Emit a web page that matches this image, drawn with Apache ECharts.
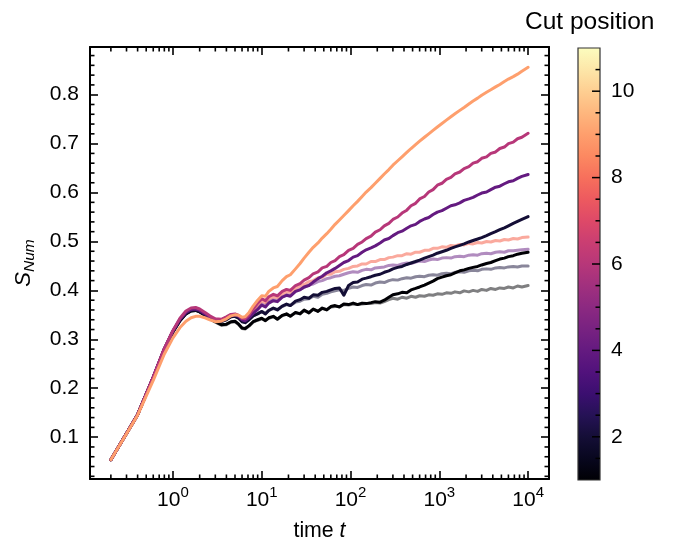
<!DOCTYPE html>
<html><head><meta charset="utf-8">
<script src="https://cdn.jsdelivr.net/npm/echarts@6/dist/echarts.min.js"></script>
<style>html,body{margin:0;padding:0;background:#fff}#c{width:689px;height:542px}</style>
</head><body><div id="c"></div>
<script>
// time points
const T = [0.2,0.4,0.6,0.8,1.0,1.2,1.4,1.6,1.8,2.0,2.3,2.6,
3.0,3.5,4.0,4.5,5.0,5.5,6.0,6.5,7.2,8.0,9.0,
10,11,12,13.5,15,17,19,
21,24,27,30,34,38,43,48,54,60,67,75,84,95,
107,120,135,150,170,190,215,240,270,300,
340,380,430,480,540,600,680,760,850,950,
1070,1200,1350,1500,1700,1900,2150,2400,2700,3000,
3400,3800,4300,4800,5400,6000,6800,7600,8500,10000];

// solid lines
const cut1 = [0.054,0.146,0.222,0.279,0.315,0.338,0.352,0.358,0.359,0.356,0.349,0.342,
0.336,0.330,0.331,0.336,0.337,0.331,0.323,0.322,0.328,0.336,0.340,
0.343,0.338,0.344,0.347,0.341,0.349,0.352,
0.347,0.355,0.352,0.360,0.354,0.362,0.357,0.364,0.360,0.367,0.369,0.366,0.372,0.371,
0.374,0.371,0.374,0.373,0.375,0.377,0.376,0.380,0.386,0.391,
0.393,0.396,0.395,0.401,0.404,0.407,0.411,0.415,0.419,0.424,
0.427,0.430,0.432,0.436,0.440,0.442,0.445,0.447,0.449,0.452,
0.455,0.457,0.461,0.464,0.466,0.469,0.471,0.474,0.476,0.478];
const cut2 = [0.054,0.146,0.222,0.280,0.316,0.339,0.353,0.359,0.360,0.357,0.350,0.344,
0.338,0.336,0.340,0.346,0.347,0.343,0.336,0.334,0.340,0.348,0.352,
0.357,0.352,0.359,0.364,0.360,0.368,0.372,
0.369,0.378,0.381,0.386,0.384,0.391,0.390,0.396,0.398,0.401,0.404,0.405,0.390,0.410,
0.416,0.417,0.423,0.425,0.428,0.431,0.433,0.437,0.440,0.444,
0.447,0.449,0.453,0.456,0.459,0.462,0.466,0.469,0.472,0.476,
0.479,0.482,0.486,0.489,0.492,0.495,0.499,0.502,0.505,0.508,
0.512,0.516,0.520,0.524,0.528,0.532,0.537,0.541,0.545,0.551];
const cut4 = [0.054,0.146,0.223,0.281,0.317,0.341,0.355,0.361,0.362,0.359,0.352,0.345,
0.340,0.339,0.344,0.349,0.350,0.347,0.340,0.338,0.344,0.353,0.361,
0.370,0.366,0.374,0.379,0.377,0.386,0.390,
0.388,0.398,0.401,0.407,0.410,0.417,0.424,0.429,0.436,0.440,0.445,0.451,0.457,0.461,
0.468,0.471,0.478,0.483,0.487,0.491,0.497,0.503,0.506,0.512,
0.518,0.521,0.527,0.532,0.535,0.541,0.546,0.549,0.555,0.560,
0.563,0.568,0.573,0.575,0.579,0.584,0.587,0.590,0.595,0.599,
0.601,0.606,0.611,0.613,0.618,0.622,0.624,0.629,0.633,0.637];
const cut6 = [0.054,0.146,0.223,0.281,0.318,0.343,0.358,0.364,0.365,0.362,0.355,0.348,
0.342,0.341,0.346,0.351,0.352,0.349,0.343,0.342,0.350,0.362,0.374,
0.383,0.379,0.387,0.392,0.389,0.398,0.402,
0.400,0.410,0.414,0.421,0.426,0.434,0.438,0.446,0.449,0.457,0.461,0.469,0.473,0.482,
0.486,0.494,0.499,0.506,0.511,0.519,0.524,0.532,0.537,0.545,
0.550,0.558,0.564,0.573,0.578,0.587,0.592,0.601,0.606,0.615,
0.619,0.627,0.631,0.638,0.642,0.649,0.653,0.660,0.663,0.670,
0.673,0.680,0.683,0.690,0.693,0.700,0.703,0.710,0.713,0.721];
const cut9 = [0.054,0.145,0.216,0.270,0.303,0.324,0.337,0.344,0.347,0.347,0.344,0.340,
0.336,0.337,0.342,0.348,0.350,0.349,0.345,0.346,0.355,0.368,0.380,
0.389,0.388,0.398,0.405,0.408,0.420,0.428,
0.432,0.444,0.455,0.466,0.478,0.488,0.497,0.507,0.516,0.525,0.535,0.544,0.553,0.563,
0.573,0.582,0.592,0.601,0.610,0.619,0.629,0.638,0.647,0.656,
0.665,0.673,0.682,0.690,0.698,0.705,0.713,0.720,0.727,0.734,
0.741,0.748,0.755,0.761,0.768,0.774,0.781,0.787,0.793,0.799,
0.805,0.810,0.816,0.821,0.827,0.832,0.837,0.842,0.848,0.856];

// faded lines
const cut1b = [0.054,0.146,0.222,0.279,0.315,0.338,0.352,0.358,0.359,0.356,0.349,0.342,
0.335,0.329,0.330,0.335,0.336,0.330,0.322,0.321,0.327,0.335,0.339,
0.342,0.339,0.343,0.346,0.342,0.348,0.351,
0.348,0.354,0.353,0.358,0.355,0.361,0.358,0.363,0.361,0.366,0.367,0.367,0.371,0.370,
0.372,0.371,0.372,0.373,0.373,0.375,0.374,0.377,0.381,0.384,
0.382,0.386,0.384,0.388,0.386,0.389,0.388,0.391,0.390,0.393,
0.392,0.395,0.394,0.397,0.395,0.399,0.397,0.400,0.398,0.402,
0.400,0.404,0.402,0.405,0.404,0.407,0.405,0.409,0.407,0.410];
const cut2b = [0.054,0.146,0.222,0.280,0.316,0.339,0.353,0.359,0.360,0.357,0.350,0.344,
0.338,0.336,0.341,0.346,0.347,0.343,0.337,0.335,0.341,0.348,0.353,
0.357,0.353,0.359,0.363,0.361,0.367,0.371,
0.369,0.376,0.378,0.382,0.383,0.388,0.386,0.392,0.394,0.397,0.399,0.401,0.400,0.404,
0.407,0.406,0.410,0.412,0.411,0.415,0.417,0.416,0.420,0.422,
0.421,0.424,0.426,0.425,0.428,0.429,0.428,0.431,0.432,0.431,
0.434,0.435,0.434,0.437,0.438,0.437,0.440,0.441,0.440,0.443,
0.444,0.443,0.446,0.447,0.446,0.448,0.449,0.448,0.450,0.450];
const cut4b = [0.054,0.146,0.223,0.281,0.317,0.341,0.355,0.361,0.362,0.359,0.352,0.345,
0.340,0.340,0.345,0.350,0.351,0.348,0.341,0.339,0.346,0.355,0.364,
0.372,0.369,0.377,0.381,0.379,0.387,0.391,
0.390,0.398,0.402,0.406,0.411,0.413,0.418,0.420,0.424,0.426,0.429,0.430,0.433,0.436,
0.438,0.437,0.441,0.443,0.442,0.446,0.447,0.448,0.451,0.452,
0.451,0.454,0.456,0.455,0.458,0.460,0.459,0.462,0.464,0.463,
0.466,0.467,0.466,0.469,0.470,0.469,0.472,0.473,0.472,0.475,
0.476,0.475,0.478,0.479,0.478,0.481,0.481,0.482,0.483,0.484];
const cut8b = [0.054,0.146,0.223,0.280,0.316,0.340,0.354,0.360,0.361,0.358,0.352,0.345,
0.341,0.340,0.345,0.350,0.351,0.348,0.342,0.341,0.348,0.358,0.369,
0.378,0.375,0.383,0.387,0.385,0.393,0.397,
0.396,0.404,0.409,0.412,0.418,0.420,0.426,0.427,0.433,0.433,0.438,0.439,0.443,0.445,
0.449,0.450,0.454,0.454,0.459,0.459,0.463,0.463,0.467,0.468,
0.471,0.471,0.475,0.474,0.478,0.478,0.482,0.482,0.486,0.486,
0.489,0.488,0.492,0.491,0.494,0.493,0.496,0.495,0.498,0.497,
0.500,0.499,0.502,0.501,0.504,0.503,0.506,0.505,0.508,0.509];

// tick positions
const cbMajorTicks = [2,4,6,8,10];
const cbMinorTicks = [1.5,2.5,3,3.5,4.5,5,5.5,6.5,7,7.5,8.5,9,9.5,10.5];
const xMinorTicks = [0.2,0.3,0.4,0.5,0.6,0.7,0.8,0.9,2,3,4,5,6,7,8,9,20,30,40,50,60,70,80,90,
200,300,400,500,600,700,800,900,2000,3000,4000,5000,6000,7000,8000,9000];
const yMinorTicks = [0.02,0.04,0.06,0.08,0.12,0.14,0.16,0.18,0.22,0.24,0.26,0.28,0.32,0.34,0.36,0.38,
0.42,0.44,0.46,0.48,0.52,0.54,0.56,0.58,0.62,0.64,0.66,0.68,0.72,0.74,0.76,0.78,0.82,0.84,0.86,0.88];

const MAGMA = ['#000004','#08071e','#140e36','#251255','#3b0f70','#51127c','#641a80','#782281','#8c2981','#a1307e',
'#b73779','#ca3e72','#de4968','#ed5a5f','#f7705c','#fc8961','#fe9f6d','#feb77e','#fecf92','#fde7a9','#fcfdbf'];

const X_MIN = 0.1164, X_MAX = 17180, Y_MIN = 0.0145, Y_MAX = 0.8975;
const FONT = 'Liberation Sans, Arial, Helvetica, sans-serif';
const TICK_FS = 21;

const pair = arr => T.map((t, i) => [t, arr[i]]);
const lines = [
  {d: cut1b, c: '#000004', o: 0.5},
  {d: cut2b, c: '#140e36', o: 0.5},
  {d: cut4b, c: '#641a80', o: 0.5},
  {d: cut8b, c: '#f7705c', o: 0.6},
  {d: cut1, c: '#000004', o: 1},
  {d: cut2, c: '#140e36', o: 1},
  {d: cut4, c: '#641a80', o: 1},
  {d: cut6, c: '#b73779', o: 1},
  {d: cut9, c: '#fe9f6d', o: 1}
];

const tickStyle = {stroke: '#000', lineWidth: 1.6};
const series = lines.map(l => ({
  type: 'line', xAxisIndex: 0, yAxisIndex: 0, data: pair(l.d), showSymbol: false, symbol: 'none',
  lineStyle: {color: l.c, width: 3, opacity: l.o, join: 'round', cap: 'round'},
  itemStyle: {color: l.c}, z: 2, silent: true
}));
series.push({
  type: 'custom', xAxisIndex: 0, yAxisIndex: 0, clip: false, silent: true, z: 20,
  data: xMinorTicks.map(t => [t, Y_MIN]),
  renderItem: (p, api) => {
    const a = api.coord([api.value(0), Y_MIN]), b = api.coord([api.value(0), Y_MAX]);
    return {type: 'group', children: [
      {type: 'line', shape: {x1: a[0], y1: a[1], x2: a[0], y2: a[1] - 4.5}, style: tickStyle},
      {type: 'line', shape: {x1: b[0], y1: b[1], x2: b[0], y2: b[1] + 4.5}, style: tickStyle}]};
  }
});
series.push({
  type: 'custom', xAxisIndex: 0, yAxisIndex: 0, clip: false, silent: true, z: 20,
  data: yMinorTicks.map(v => [X_MIN, v]),
  renderItem: (p, api) => {
    const a = api.coord([X_MIN, api.value(1)]), b = api.coord([X_MAX, api.value(1)]);
    return {type: 'group', children: [
      {type: 'line', shape: {x1: a[0], y1: a[1], x2: a[0] + 4.5, y2: a[1]}, style: tickStyle},
      {type: 'line', shape: {x1: b[0], y1: b[1], x2: b[0] - 4.5, y2: b[1]}, style: tickStyle}]};
  }
});
// colour bar
series.push({
  type: 'custom', xAxisIndex: 2, yAxisIndex: 2, clip: false, silent: true, z: 2,
  data: [[0, 1]],
  renderItem: (p, api) => {
    const a = api.coord([0, 11]), b = api.coord([1, 1]);
    return {type: 'rect', shape: {x: a[0], y: a[1], width: b[0] - a[0], height: b[1] - a[1]},
      style: {fill: new echarts.graphic.LinearGradient(0, 1, 0, 0,
        MAGMA.map((c, i) => ({offset: i / (MAGMA.length - 1), color: c}))), stroke: '#333', lineWidth: 1.2}};
  }
});
series.push({
  type: 'custom', xAxisIndex: 2, yAxisIndex: 2, clip: false, silent: true, z: 20,
  data: cbMinorTicks.map(v => [1, v, 4.5]).concat(cbMajorTicks.map(v => [1, v, 8])),
  renderItem: (p, api) => {
    const a = api.coord([1, api.value(1)]);
    return {type: 'line', shape: {x1: a[0], y1: a[1], x2: a[0] - api.value(2), y2: a[1]}, style: {stroke: '#000', lineWidth: 1.5}};
  }
});

const labelFmtLog = v => '{b|10}{s|' + Math.round(Math.log10(v)) + '}';
const axLine = {show: true, onZero: false, lineStyle: {color: '#000', width: 2}};
const majorTick = {show: true, inside: true, length: 8, lineStyle: {color: '#000', width: 1.6}};

const option = {
  animation: false,
  backgroundColor: '#fff',
  title: {text: 'Cut position', left: 520, top: 5,
    textStyle: {fontFamily: FONT, fontSize: 24.5, fontWeight: 'normal', color: '#000'}},
  grid: [
    {left: 90, top: 47, width: 459, height: 432, containLabel: false, outerBoundsMode: 'none'},
    {left: 578, top: 48, width: 22, height: 432, containLabel: false, outerBoundsMode: 'none'}
  ],
  xAxis: [
    {type: 'log', logBase: 10, gridIndex: 0, min: X_MIN, max: X_MAX, position: 'bottom', z: 10,
     axisLine: axLine, axisTick: majorTick, splitLine: {show: false},
     axisLabel: {showMinLabel: false, showMaxLabel: false, margin: 6, formatter: labelFmtLog, color: '#000',
       rich: {b: {fontFamily: FONT, fontSize: TICK_FS, color: '#000', verticalAlign: 'bottom', padding: [5, 0, 0, 0]},
              s: {fontFamily: FONT, fontSize: 15, color: '#000', verticalAlign: 'top'}}},
     name: '{n|time }{i|t}', nameLocation: 'middle', nameGap: 42,
     nameTextStyle: {rich: {n: {fontFamily: FONT, fontSize: 21.3, color: '#000'},
                            i: {fontFamily: FONT, fontSize: 21.3, fontStyle: 'italic', color: '#000'}}}},
    {type: 'log', logBase: 10, gridIndex: 0, min: X_MIN, max: X_MAX, position: 'top', z: 10,
     axisLine: axLine, axisTick: majorTick, axisLabel: {show: false}, splitLine: {show: false}},
    {type: 'value', gridIndex: 1, min: 0, max: 1, show: false}
  ],
  yAxis: [
    {type: 'value', gridIndex: 0, min: Y_MIN, max: Y_MAX, splitNumber: 9, position: 'left', z: 10,
     axisLine: axLine, axisTick: majorTick, splitLine: {show: false},
     axisLabel: {showMinLabel: false, showMaxLabel: false, margin: 11, color: '#000',
       fontFamily: FONT, fontSize: TICK_FS, formatter: v => v.toFixed(1)},
     name: '{s|S}{sub|Num}', nameLocation: 'middle', nameGap: 52, nameRotate: 90,
     nameTextStyle: {rich: {s: {fontFamily: FONT, fontSize: 22, fontStyle: 'italic', color: '#000', verticalAlign: 'top'},
                            sub: {fontFamily: FONT, fontSize: 15.5, fontStyle: 'italic', color: '#000', verticalAlign: 'top', padding: [9, 0, 0, 0]}}}},
    {type: 'value', gridIndex: 0, min: Y_MIN, max: Y_MAX, splitNumber: 9, position: 'right', z: 10,
     axisLine: axLine, axisTick: majorTick, axisLabel: {show: false}, splitLine: {show: false}},
    {type: 'value', gridIndex: 1, min: 1, max: 11, splitNumber: 5, position: 'right', z: 10,
     axisLine: {show: false}, splitLine: {show: false}, axisTick: {show: false},
     axisLabel: {showMinLabel: false, showMaxLabel: false, margin: 11, color: '#000', fontFamily: FONT, fontSize: TICK_FS}}
  ],
  series: series
};
const chart = echarts.init(document.getElementById('c'), null, {renderer: 'canvas'});
chart.setOption(option);
</script></body></html>
